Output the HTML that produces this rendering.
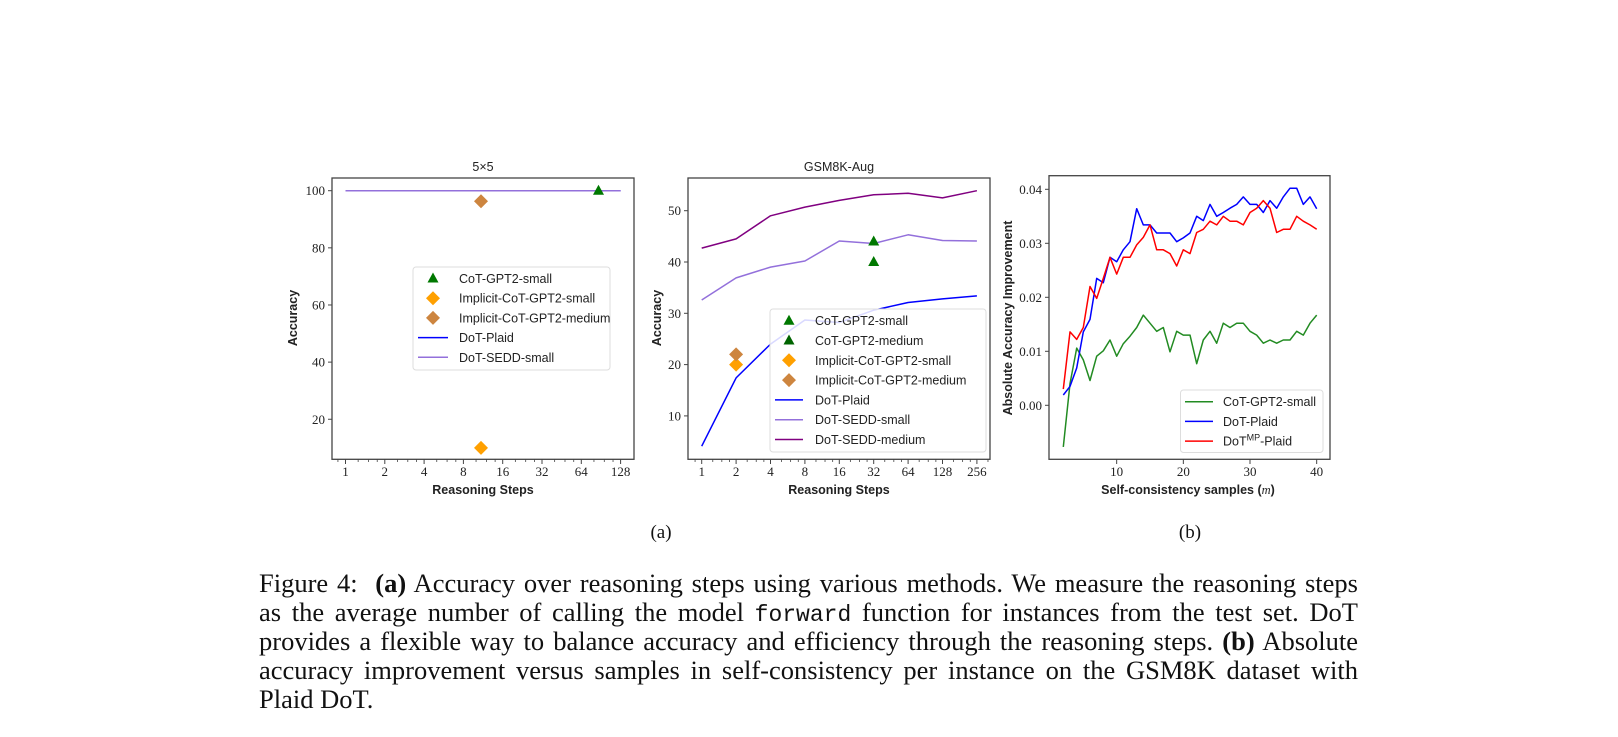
<!DOCTYPE html>
<html><head><meta charset="utf-8"><style>
body{margin:0;background:#fff;width:1618px;height:737px;overflow:hidden}
svg{display:block}
.t{font-family:"Liberation Serif",serif;font-size:13px;fill:#222}
.l{font-family:"Liberation Sans",sans-serif;font-size:12.5px;fill:#222}
.b{font-family:"Liberation Sans",sans-serif;font-size:12.5px;font-weight:bold;fill:#222}
.cap{position:absolute;left:259px;width:1099px;font-family:"Liberation Serif",serif;font-size:26.5px;color:#111;white-space:nowrap}
.cap div{height:29px;line-height:29px;overflow:visible}
.j{text-align:justify;text-align-last:justify}
</style></head><body>
<svg id="s" width="1618" height="737" xmlns="http://www.w3.org/2000/svg"></svg>
<div class="cap" style="top:569px">
<div class="j">Figure 4:&nbsp; <b>(a)</b> Accuracy over reasoning steps using various methods. We measure the reasoning steps</div>
<div class="j">as the average number of calling the model <span style="font-family:'Liberation Mono',monospace;font-size:23px">forward</span> function for instances from the test set. DoT</div>
<div class="j">provides a flexible way to balance accuracy and efficiency through the reasoning steps. <b>(b)</b> Absolute</div>
<div class="j">accuracy improvement versus samples in self-consistency per instance on the GSM8K dataset with</div>
<div>Plaid DoT.</div>
</div>
<script>
const s=document.getElementById('s');let h='';
const L2=Math.log2;
function line(pts,c,w){h+=`<polyline fill="none" stroke="${c}" stroke-width="${w||1.5}" stroke-linejoin="round" points="${pts.map(p=>p[0].toFixed(1)+','+p[1].toFixed(1)).join(' ')}"/>`;}
function tri(x,y,c){h+=`<polygon fill="${c}" points="${x},${y-6} ${x-5.5},${y+4} ${x+5.5},${y+4}"/>`;}
function dia(x,y,c){h+=`<polygon fill="${c}" points="${x},${y-7} ${x+7},${y} ${x},${y+7} ${x-7},${y}"/>`;}
function txt(x,y,t,cl,a){h+=`<text x="${x}" y="${y}" class="${cl}" text-anchor="${a||'middle'}">${t}</text>`;}
function box(x1,y1,x2,y2){h+=`<rect x="${x1}" y="${y1}" width="${x2-x1}" height="${y2-y1}" fill="none" stroke="#444" stroke-width="1.3"/>`;}
function legend(x1,y1,x2,y2){h+=`<rect x="${x1}" y="${y1}" width="${x2-x1}" height="${y2-y1}" rx="3" fill="#fff" fill-opacity="0.85" stroke="#ddd"/>`;}
const GR='#007800',OR='#ffa000',BR='#cd853f',BL='#0000ff',PU='#9370db',DP='#800080',RD='#ff0000',G3='#228b22';
// ---- plot 1
const X1=s=>345.5+39.3*L2(s),Y1=v=>476.4-2.857*v;
box(332,178,634,459.3);
txt(483,171,'5×5','l');
[1,2,4,8,16,32,64,128].forEach(v=>{const x=X1(v);h+=`<line x1="${x}" y1="459.3" x2="${x}" y2="464" stroke="#444"/>`;txt(x,476,v,'t');});
for(let k=-1;k<8;k++)for(const m of[1.25,1.5,1.75]){const x=X1(Math.pow(2,k)*m*1);if(x>333&&x<633)h+=`<line x1="${x}" y1="459.3" x2="${x}" y2="462" stroke="#444" stroke-width="0.8"/>`;}
[20,40,60,80,100].forEach(v=>{const y=Y1(v);h+=`<line x1="328" y1="${y}" x2="332" y2="${y}" stroke="#444"/>`;txt(325,y+4.5,v,'t','end');});
txt(483,494,'Reasoning Steps','b');
h+=`<text x="0" y="0" class="b" text-anchor="middle" transform="translate(297,318) rotate(-90)">Accuracy</text>`;
line([[X1(1),Y1(100)],[X1(128),Y1(100)]],BL);
line([[X1(1),Y1(100)],[X1(128),Y1(100)]],PU);
tri(598.5,Y1(100),GR);dia(481,Y1(96.3),BR);dia(481,Y1(10),OR);
legend(413,267,610,370);
[['CoT-GPT2-small','t',GR],['Implicit-CoT-GPT2-small','d',OR],['Implicit-CoT-GPT2-medium','d',BR],['DoT-Plaid','l',BL],['DoT-SEDD-small','l',PU]].forEach((e,i)=>{const y=278.5+i*19.7;
 if(e[1]=='t')tri(433,y,e[2]);else if(e[1]=='d')dia(433,y,e[2]);else line([[418,y],[448,y]],e[2]);txt(459,y+4.5,e[0],'l','start');});
// ---- plot 2
const X2=s=>701.7+34.4*L2(s),Y2=v=>467.2-5.13*v;
box(688,178,990,459.3);
txt(839,171,'GSM8K-Aug','l');
[1,2,4,8,16,32,64,128,256].forEach(v=>{const x=X2(v);h+=`<line x1="${x}" y1="459.3" x2="${x}" y2="464" stroke="#444"/>`;txt(x,476,v,'t');});
for(let k=-1;k<9;k++)for(const m of[1.25,1.5,1.75]){const x=X2(Math.pow(2,k)*m);if(x>689&&x<989)h+=`<line x1="${x}" y1="459.3" x2="${x}" y2="462" stroke="#444" stroke-width="0.8"/>`;}
[10,20,30,40,50].forEach(v=>{const y=Y2(v);h+=`<line x1="684" y1="${y}" x2="688" y2="${y}" stroke="#444"/>`;txt(681,y+4.5,v,'t','end');});
txt(839,494,'Reasoning Steps','b');
h+=`<text x="0" y="0" class="b" text-anchor="middle" transform="translate(661,318) rotate(-90)">Accuracy</text>`;
const S=[1,2,4,8,16,32,64,128,256];
line(S.map((x,i)=>[X2(x),Y2([42.7,44.5,49,50.7,52,53.1,53.4,52.5,53.9][i])]),DP);
line(S.map((x,i)=>[X2(x),Y2([32.6,36.9,39,40.2,44.1,43.6,45.3,44.2,44.1][i])]),PU);
line(S.map((x,i)=>[X2(x),Y2([4.1,17.4,24,28.7,28.2,30.6,32.1,32.8,33.4][i])]),BL);
tri(X2(32),Y2(44),GR);tri(X2(32),Y2(40),GR);dia(X2(2),Y2(20),OR);dia(X2(2),Y2(22),BR);
legend(770,309,986,452);
[['CoT-GPT2-small','t',GR],['CoT-GPT2-medium','t','#006400'],['Implicit-CoT-GPT2-small','d',OR],['Implicit-CoT-GPT2-medium','d',BR],['DoT-Plaid','l',BL],['DoT-SEDD-small','l',PU],['DoT-SEDD-medium','l',DP]].forEach((e,i)=>{const y=320.7+i*19.8;
 if(e[1]=='t')tri(789,y,e[2]);else if(e[1]=='d')dia(789,y,e[2]);else line([[775,y],[803,y]],e[2]);txt(815,y+4.5,e[0],'l','start');});
// ---- plot 3
const X3=m=>1050+6.667*m,Y3=v=>405.3-5400*v;
box(1049,175.7,1330,459.3);
[10,20,30,40].forEach(v=>{const x=X3(v);h+=`<line x1="${x}" y1="459.3" x2="${x}" y2="464" stroke="#444"/>`;txt(x,476,v,'t');});
['0.00','0.01','0.02','0.03','0.04'].forEach(v=>{const y=Y3(+v);h+=`<line x1="1045" y1="${y}" x2="1049" y2="${y}" stroke="#444"/>`;txt(1042,y+4.5,v,'t','end');});
h+=`<text x="1188" y="494" class="b" text-anchor="middle">Self-consistency samples (<tspan font-family="Liberation Serif" font-style="italic" font-weight="normal">m</tspan>)</text>`;
h+=`<text x="0" y="0" class="b" text-anchor="middle" transform="translate(1012,318) rotate(-90)">Absolute Accuracy Improvement</text>`;
const gr=[-0.0077,0.004,0.0106,0.0084,0.0046,0.0091,0.0101,0.0121,0.0091,0.0114,0.0128,0.0144,0.0167,0.0152,0.0137,0.0144,0.0099,0.0137,0.013,0.013,0.0077,0.0121,0.0137,0.0115,0.0152,0.0144,0.0152,0.0152,0.0137,0.013,0.0115,0.0121,0.0115,0.0121,0.0121,0.0137,0.013,0.0152,0.0167];
const bl=[0.0019,0.0035,0.0069,0.0136,0.0159,0.0235,0.0227,0.0274,0.0266,0.0288,0.0303,0.0364,0.0334,0.0334,0.0319,0.0319,0.0319,0.0303,0.031,0.0319,0.035,0.0342,0.0372,0.035,0.0357,0.0365,0.0372,0.0386,0.0372,0.0372,0.0357,0.0379,0.0365,0.0386,0.0402,0.0402,0.0372,0.0386,0.0364];
const rd=[0.003,0.0136,0.0122,0.0144,0.022,0.0198,0.0235,0.0274,0.0243,0.0274,0.0274,0.0297,0.0311,0.0334,0.0288,0.0288,0.0281,0.0258,0.0288,0.0281,0.032,0.0326,0.0341,0.0334,0.035,0.0341,0.0341,0.0334,0.0357,0.0365,0.0379,0.0365,0.032,0.0326,0.0326,0.035,0.0341,0.0334,0.0326];
line(gr.map((v,i)=>[X3(i+2),Y3(v)]),G3);
line(bl.map((v,i)=>[X3(i+2),Y3(v)]),BL);
line(rd.map((v,i)=>[X3(i+2),Y3(v)]),RD);
legend(1180.5,390,1323,452.5);
[['CoT-GPT2-small',G3],['DoT-Plaid',BL],['DoT<tspan font-size="9" dy="-5">MP</tspan><tspan dy="5">-Plaid</tspan>',RD]].forEach((e,i)=>{const y=401.7+i*19.7;line([[1185,y],[1213,y]],e[1]);txt(1223,y+4.5,e[0],'l','start');});
// subfigure labels
h+=`<text x="661" y="538" font-family="Liberation Serif" font-size="19" text-anchor="middle" fill="#111">(a)</text>`;
h+=`<text x="1190" y="538" font-family="Liberation Serif" font-size="19" text-anchor="middle" fill="#111">(b)</text>`;
s.innerHTML=h;
</script>
</body></html>
